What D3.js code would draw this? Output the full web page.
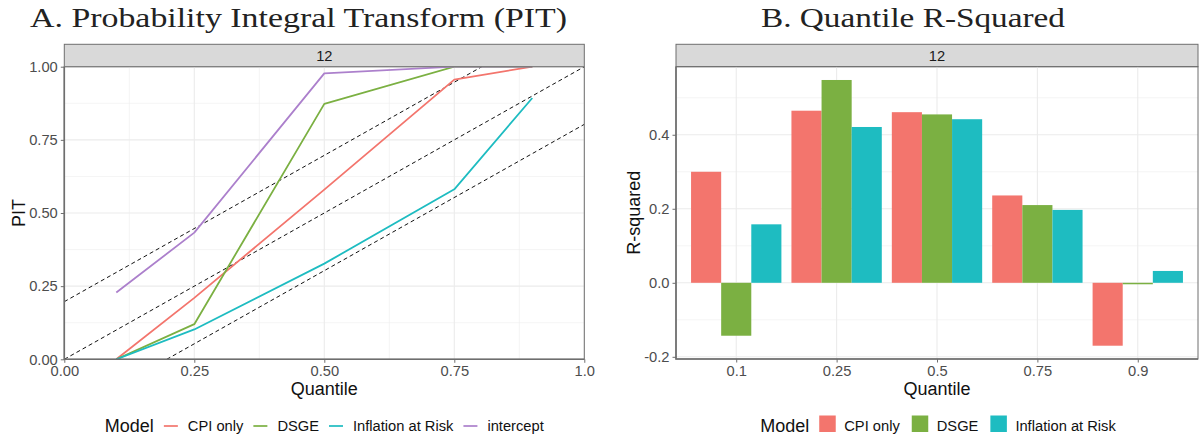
<!DOCTYPE html>
<html>
<head>
<meta charset="utf-8">
<script src="https://cdn.jsdelivr.net/npm/d3@7"></script>
<style>
body { margin: 0; background: #fff; }
text { font-family: "Liberation Sans", Arial, sans-serif; }
.tick text { fill: #4d4d4d; font-size: 14.7px; }
.tick line { stroke: #6e6e6e; }
.domain { display: none; }
</style>
</head>
<body>
<div id="main"></div>
<script>
// panel A: PIT by quantile
var quantiles = [0.1, 0.25, 0.5, 0.75, 0.9];
var pitCPI = [0, 0.21, 0.58, 0.956, 1.0];
var pitDSGE = [0, 0.12, 0.873, 1.0, 1.0];
var pitIaR = [0, 0.102, 0.327, 0.581, 0.893];
var pitIntercept = [0.228, 0.433, 0.977, 1.0, 1.0];
var bandOffsets = [-0.197, 0, 0.197];
var pitTicks = [0, 0.25, 0.5, 0.75, 1];

// panel B: quantile R-squared
var r2Quantiles = ["0.1", "0.25", "0.5", "0.75", "0.9"];
var r2CPI = [0.30, 0.465, 0.461, 0.236, -0.170];
var r2DSGE = [-0.143, 0.548, 0.455, 0.21, -0.004];
var r2IaR = [0.158, 0.421, 0.442, 0.197, 0.032];
var r2Ticks = [-0.2, 0, 0.2, 0.4];

var models = ["CPI only", "DSGE", "Inflation at Risk", "intercept"];
var colors = ["#F3756D", "#7BB042", "#1EBCC1", "#AC80CC"];

var ctx = {
    w: 1200,
    h: 438,
    border: "#6e6e6e",
};

var createViz = function(){
    var svgEl = d3.select("#main").append("svg")
        .attr("width", ctx.w)
        .attr("height", ctx.h);
    svgEl.append("rect")
        .attr("width", ctx.w).attr("height", ctx.h)
        .attr("fill", "#fff");
    ctx.svg = svgEl;
    drawPIT(svgEl);
    drawR2(svgEl);
};

var fitTitle = function(svgEl, txt, x, width){
    svgEl.append("text")
        .attr("x", x).attr("y", 27)
        .style("font-family", "'Liberation Serif', 'DejaVu Serif', serif")
        .attr("font-size", 28)
        .attr("fill", "#222")
        .attr("textLength", width)
        .attr("lengthAdjust", "spacingAndGlyphs")
        .text(txt);
};

// grey strip + panel frame
var drawStrip = function(g, x0, x1, label){
    g.append("rect")
        .attr("x", x0).attr("y", 44.3)
        .attr("width", x1 - x0).attr("height", 22.4)
        .attr("fill", "#d9d9d9")
        .attr("stroke", ctx.border).attr("stroke-width", 1);
    g.append("text")
        .attr("x", (x0 + x1) / 2).attr("y", 60.5)
        .attr("text-anchor", "middle")
        .attr("font-size", 14.7)
        .attr("fill", "#1a1a1a")
        .text(label);
};

var drawFrame = function(g, x0, x1, y0, y1){
    g.append("rect")
        .attr("x", x0).attr("y", y0)
        .attr("width", x1 - x0).attr("height", y1 - y0)
        .attr("fill", "none")
        .attr("stroke", ctx.border).attr("stroke-width", 1);
    // heavier axis lines on left / bottom
    g.append("path")
        .attr("d", "M" + x0 + "," + y0 + "V" + y1 + "H" + x1)
        .attr("fill", "none")
        .attr("stroke", ctx.border).attr("stroke-width", 1.6);
};

var gridLine = function(g, vals, scale, other, vertical, width){
    g.selectAll(null).data(vals).enter().append("line")
        .attr("x1", d => vertical ? scale(d) : other[0])
        .attr("x2", d => vertical ? scale(d) : other[1])
        .attr("y1", d => vertical ? other[0] : scale(d))
        .attr("y2", d => vertical ? other[1] : scale(d))
        .attr("stroke", "#ebebeb")
        .attr("stroke-width", width);
};

var drawLegend = function(g, cx, items, keyType){
    var lg = g.append("g");
    var y = 431.5;
    var parts = [];
    var title = lg.append("text").attr("y", y).attr("font-size", 18).attr("fill", "#111").text("Model");
    var pos = title.node().getComputedTextLength();
    parts.push({el: title, x: 0});
    items.forEach(function(it){
        pos += 10;
        var kw = keyType == "line" ? 14 : 16.5;
        parts.push({key: true, x: pos, w: kw, color: it.color});
        pos += kw + (keyType == "line" ? 10 : 8.5);
        var t = lg.append("text").attr("y", y - 0.5).attr("font-size", 14.7).attr("fill", "#111").text(it.name);
        parts.push({el: t, x: pos});
        pos += t.node().getComputedTextLength() + (keyType == "line" ? 0 : 2);
    });
    var start = cx - pos / 2;
    parts.forEach(function(p){
        if (p.key){
            if (keyType == "line"){
                lg.append("line")
                    .attr("x1", start + p.x).attr("x2", start + p.x + p.w)
                    .attr("y1", 426).attr("y2", 426)
                    .attr("stroke", p.color).attr("stroke-width", 1.7);
            } else {
                lg.append("rect")
                    .attr("x", start + p.x).attr("y", 415.5)
                    .attr("width", p.w).attr("height", 16.5)
                    .attr("fill", p.color);
            }
        } else {
            p.el.attr("x", start + p.x);
        }
    });
};

var drawPIT = function(svgEl){
    var g = svgEl.append("g").attr("id", "pit");
    var x = d3.scaleLinear().domain([0, 1]).range([64.3, 584.3]);
    var y = d3.scaleLinear().domain([0, 1]).range([359.3, 66.7]);
    var minor = [0.125, 0.375, 0.625, 0.875];

    fitTitle(svgEl, "A. Probability Integral Transform (PIT)", 30, 537);
    drawStrip(g, x(0), x(1), "12");

    gridLine(g, minor, x, y.range(), true, 0.55);
    gridLine(g, minor, y, x.range(), false, 0.55);
    gridLine(g, pitTicks, x, y.range(), true, 1.1);
    gridLine(g, pitTicks, y, x.range(), false, 1.1);

    g.append("clipPath").attr("id", "clipPit")
        .append("rect").attr("x", x(0)).attr("y", y(1))
        .attr("width", x(1) - x(0)).attr("height", y(0) - y(1));

    var plot = g.append("g").attr("clip-path", "url(#clipPit)");
    // 45 degree line and bands
    plot.selectAll("line.band")
        .data(bandOffsets)
        .enter().append("line")
        .attr("class", "band")
        .attr("x1", d => x(Math.max(0, -d)))
        .attr("y1", d => y(Math.max(0, -d) + d))
        .attr("x2", d => x(Math.min(1, 1 - d)))
        .attr("y2", d => y(Math.min(1, 1 - d) + d))
        .attr("stroke", "#111")
        .attr("stroke-width", 1)
        .attr("stroke-dasharray", "4,3");

    var series = [pitCPI, pitDSGE, pitIaR, pitIntercept];
    var line = d3.line()
        .x((d, i) => x(quantiles[i]))
        .y(d => y(d));
    plot.selectAll("path.model")
        .data(series)
        .enter().append("path")
        .attr("class", "model")
        .attr("d", line)
        .attr("fill", "none")
        .attr("stroke", (d, i) => colors[i])
        .attr("stroke-width", 1.8)
        .attr("stroke-linejoin", "round");

    drawFrame(g, x(0), x(1), y(1), y(0));

    g.append("g")
        .attr("transform", "translate(0," + y(0) + ")")
        .call(d3.axisBottom(x).tickValues(pitTicks).tickSize(3.5).tickPadding(3)
            .tickFormat(d => d == 1 ? "1.0" : d3.format(".2f")(d)));
    g.append("g")
        .attr("transform", "translate(" + x(0) + ",0)")
        .call(d3.axisLeft(y).tickValues(pitTicks).tickSize(3.5).tickPadding(3)
            .tickFormat(d3.format(".2f")));

    g.append("text")
        .attr("x", (x(0) + x(1)) / 2).attr("y", 395)
        .attr("text-anchor", "middle").attr("font-size", 18).attr("fill", "#111")
        .text("Quantile");
    g.append("text")
        .attr("transform", "translate(25," + (y(0) + y(1)) / 2 + ") rotate(-90)")
        .attr("text-anchor", "middle").attr("font-size", 18).attr("fill", "#111")
        .text("PIT");

    drawLegend(g, (x(0) + x(1)) / 2,
        models.map((m, i) => ({name: m, color: colors[i]})), "line");
};

var drawR2 = function(svgEl){
    var g = svgEl.append("g").attr("id", "r2");
    var x = d3.scalePoint().domain(r2Quantiles).range([676, 1198]).padding(0.6);
    var all = r2CPI.concat(r2DSGE, r2IaR);
    var ext = d3.extent(all);
    var pad = (ext[1] - ext[0]) * 0.05;
    var y = d3.scaleLinear().domain([ext[0] - pad, ext[1] + pad]).range([359, 66.7]);
    var step = x.step();
    var sub = d3.scaleBand().domain([0, 1, 2]).range([-0.45 * step, 0.45 * step]);

    fitTitle(svgEl, "B. Quantile R-Squared", 761, 304);
    drawStrip(g, 676, 1198, "12");

    gridLine(g, [-0.1, 0.1, 0.3, 0.5], y, [676, 1198], false, 0.55);
    gridLine(g, r2Ticks, y, [676, 1198], false, 1.1);
    gridLine(g, r2Quantiles, x, [66.7, 359], true, 1.1);

    var series = [r2CPI, r2DSGE, r2IaR];
    series.forEach(function(vals, s){
        g.append("g").selectAll("rect")
            .data(vals)
            .enter().append("rect")
            .attr("x", (d, i) => x(r2Quantiles[i]) + sub(s))
            .attr("width", sub.bandwidth())
            .attr("y", d => y(Math.max(0, d)))
            .attr("height", d => Math.max(0.8, Math.abs(y(d) - y(0))))
            .attr("fill", colors[s]);
    });

    drawFrame(g, 676, 1198, 66.7, 359);

    g.append("g")
        .attr("transform", "translate(0,359)")
        .call(d3.axisBottom(x).tickSize(3.5).tickPadding(3));
    g.append("g")
        .attr("transform", "translate(676,0)")
        .call(d3.axisLeft(y).tickValues(r2Ticks).tickSize(3.5).tickPadding(3)
            .tickFormat(d => d3.format(".1f")(d).replace("\u2212", "-")));

    g.append("text")
        .attr("x", 937).attr("y", 395)
        .attr("text-anchor", "middle").attr("font-size", 18).attr("fill", "#111")
        .text("Quantile");
    g.append("text")
        .attr("transform", "translate(640," + (359 + 66.7) / 2 + ") rotate(-90)")
        .attr("text-anchor", "middle").attr("font-size", 18).attr("fill", "#111")
        .text("R-squared");

    drawLegend(g, 939, models.slice(0, 3).map((m, i) => ({name: m, color: colors[i]})), "rect");
};

createViz();
</script>
</body>
</html>
